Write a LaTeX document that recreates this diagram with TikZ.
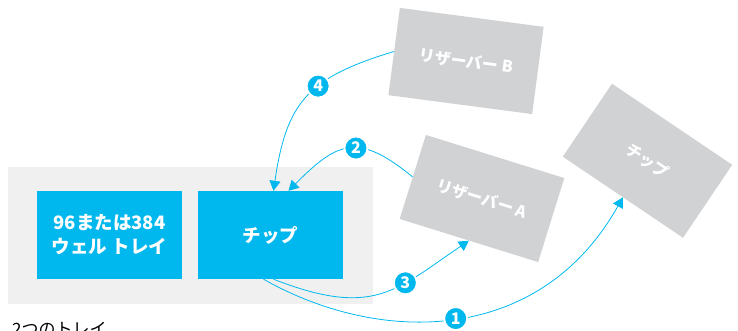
\documentclass[tikz,border=0pt]{standalone}
\usepackage{fontspec}
\newfontfamily\jp{Noto Sans CJK JP}
\usetikzlibrary{arrows.meta,shapes}
\definecolor{tipblue}{RGB}{0,184,238}
\definecolor{resgray}{RGB}{209,210,212}
\definecolor{traygray}{RGB}{240,240,240}
\tikzstyle{tray}=[rectangle,fill=traygray,minimum width=365pt,minimum height=137pt,inner sep=0pt]
\tikzstyle{bluebox}=[rectangle,fill=tipblue,minimum width=145pt,minimum height=88pt,inner sep=0pt,text=white,align=center,font=\jp\bfseries\fontsize{18.5}{24}\selectfont]
\tikzstyle{graybox}=[rectangle,fill=resgray,minimum width=145pt,minimum height=88pt,inner sep=0pt,text=white,font=\jp\bfseries\fontsize{16}{18}\selectfont]
\tikzstyle{flow} = [draw,tipblue,line width=0.8pt,-{Triangle[length=10pt,width=11pt]}]
\tikzstyle{badge}=[circle,fill=tipblue,draw=white,line width=1.8pt,minimum size=23pt,inner sep=0pt,text=white,font=\jp\bfseries\fontsize{16}{16}\selectfont]

\begin{document}
\begin{tikzpicture}[x=1pt,y=-1pt]
    \useasboundingbox (0,0) rectangle (738,331);
    % First the tray and the two boxes on it
    \node[tray] (tray) at (190.5,235.5) {};
    \node[bluebox] (plate) at (109.5,235) {96または384\\ウェル トレイ};
    \node[bluebox] (chip) at (270.5,235) {チップ};
    \node[anchor=base west,inner sep=0pt,font=\jp\fontsize{17}{17}\selectfont] (caption) at (12,335) {2つのトレイ};
    % Then the boxes that the tips visit
    \foreach \pos/\name/\ang/\txt in {{(466,61)/resB/-7.5/リザーバー B}, {(482,198.5)/resA/-17.3/リザーバー A},
                                      {(647.5,160.75)/tipB/-34/チップ}}
        \node[graybox, rotate=\ang] (\name) at \pos {\txt};
    % Connect them with the numbered steps
    \path[flow] ([xshift=-7pt]chip.south) .. controls +(116.5,66) and +(-83,148) .. node[badge,pos=0.5] {1} (tipB.south);
    \path[flow] (resA.west) .. controls +(-55,-45) and +(49,-49) .. node[badge,pos=0.43] {2} ([xshift=18pt]chip.north);
    \path[flow] ([xshift=3pt]chip.south) .. controls +(100,39) and +(-73,49.5) .. node[badge,pos=0.65] {3} (resA.south);
    \path[flow] (resB.west) .. controls +(-86,26) and +(13,-89) .. node[badge,pos=0.4] {4} ([xshift=3pt]chip.north);
\end{tikzpicture}
\end{document}
